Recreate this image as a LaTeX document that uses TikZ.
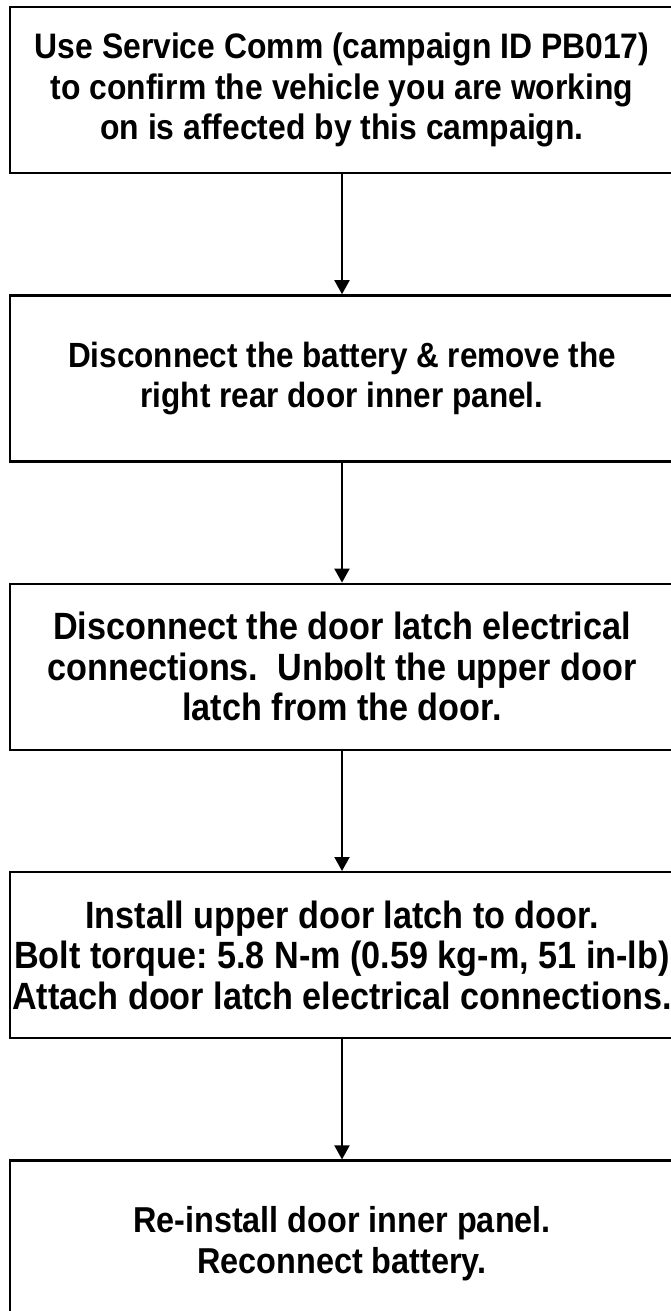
\documentclass[tikz,border=0pt]{standalone}
\usepackage{fontspec}
\setmainfont{Liberation Sans}[FakeStretch=0.9]
\usepackage{tikz}
\usetikzlibrary{positioning,arrows.meta}
\frenchspacing

\tikzset{
  stepbox/.style={draw,line width=2.4pt,minimum width=664pt,minimum height=166pt,
    inner sep=0pt,align=center,font=\bfseries\fontsize{#1}{40.5}\selectfont},
  stepbox/.default=38,
  flow/.style={line width=2pt,-{Triangle[length=14pt,width=15pt]}}
}

\begin{document}
\begin{tikzpicture}[x=1pt,y=-1pt,node distance=120pt]
\useasboundingbox (0,0) rectangle (670,1311);
%Boxes
\node[stepbox=35.4] (check) at (342,90) {Use Service Comm (campaign ID PB017)\\to confirm the vehicle you are working\\on is affected by this campaign.};
\node[stepbox=35,below=of check] (panel) {Disconnect the battery \& remove the\\right rear door inner panel.};
\node[stepbox,below=of panel] (unbolt) {Disconnect the door latch electrical\\connections.\ \ Unbolt the upper door\\latch from the door.};
\node[stepbox,below=of unbolt] (install) {Install upper door latch to door.\\Bolt torque: 5.8 N-m (0.59 kg-m, 51 in-lb)\\Attach door latch electrical connections.};
\node[stepbox=36,below=of install] (reinstall) {Re-install door inner panel.\\Reconnect battery.};
%Arrows
\draw[flow] (check) -- (panel);
\draw[flow] (panel) -- (unbolt);
\draw[flow] (unbolt) -- (install);
\draw[flow] (install) -- (reinstall);
\end{tikzpicture}
\end{document}
